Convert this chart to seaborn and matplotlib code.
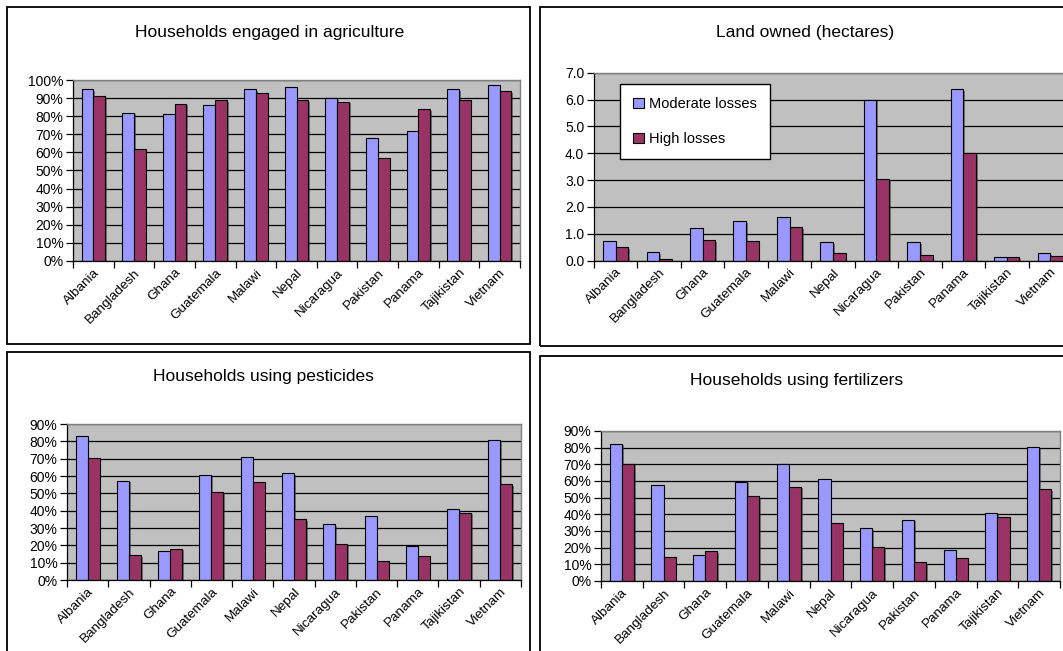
import numpy as np
import pandas as pd
import seaborn as sns
import matplotlib
matplotlib.use("Agg")
import matplotlib.pyplot as plt
from matplotlib.patches import Rectangle, Patch
from matplotlib.ticker import FuncFormatter
import matplotlib.patheffects as pe

# ---------------- data ----------------
countries = ["Albania", "Bangladesh", "Ghana", "Guatemala", "Malawi", "Nepal",
             "Nicaragua", "Pakistan", "Panama", "Tajikistan", "Vietnam"]
series_names = ["Moderate losses", "High losses"]

agri_moderate = [95, 82, 81, 86, 95, 96, 90, 68, 72, 95, 97]
agri_high = [91, 62, 87, 89, 93, 89, 88, 57, 84, 89, 94]

land_moderate = [0.73, 0.33, 1.20, 1.46, 1.64, 0.68, 6.00, 0.68, 6.39, 0.12, 0.27]
land_high = [0.50, 0.05, 0.77, 0.73, 1.24, 0.30, 3.06, 0.21, 4.00, 0.12, 0.16]

pest_moderate = [83.2, 57.3, 16.8, 60.3, 71.0, 61.6, 32.3, 36.8, 19.6, 40.9, 81.0]
pest_high = [70.1, 14.5, 18.0, 50.9, 56.6, 35.2, 21.0, 10.8, 13.9, 38.9, 55.2]

fert_moderate = [82.4, 57.5, 15.6, 59.7, 70.3, 61.2, 31.7, 36.9, 18.9, 40.8, 80.3]
fert_high = [70.3, 14.3, 18.0, 50.8, 56.6, 34.7, 20.6, 11.3, 13.7, 38.6, 55.1]

titles = ["Households engaged in agriculture", "Land owned (hectares)",
          "Households using pesticides", "Households using fertilizers"]

# ---------------- style ----------------
COL_MOD = "#9999FF"
COL_HIGH = "#993366"
BG = "#C0C0C0"
FONT = ["Liberation Sans", "DejaVu Sans"]
plt.rcParams["font.family"] = FONT

W, H = 1063, 651
fig = plt.figure(figsize=(W / 100, H / 100), dpi=100)


def fx(px):
    return px / W


def fy(py):
    return 1 - py / H


def add_axes(left, top, right, bottom):
    return fig.add_axes([fx(left), fy(bottom), fx(right) - fx(left), (bottom - top) / H])


def panel_box(x0, y0, x1, y1):
    fig.add_artist(Rectangle((fx(x0), fy(y1)), fx(x1) - fx(x0), (y1 - y0) / H,
                             transform=fig.transFigure, fill=False,
                             edgecolor="black", linewidth=1.3, zorder=0))


def draw(ax, mod, high, ymax, step, fmt):
    df = pd.DataFrame({
        "Country": countries * 2,
        "Loss": [series_names[0]] * len(countries) + [series_names[1]] * len(countries),
        "Value": list(mod) + list(high),
    })
    sns.barplot(data=df, x="Country", y="Value", hue="Loss", order=countries,
                hue_order=series_names, palette=[COL_MOD, COL_HIGH],
                width=0.58, gap=0, saturation=1, errorbar=None,
                edgecolor="black", linewidth=0.8, legend=False, ax=ax)
    for p in ax.patches:
        p.set_path_effects([pe.SimplePatchShadow(offset=(1.2, -1.2), shadow_rgbFace="#303030", alpha=0.55),
                            pe.Normal()])
    ax.set_facecolor(BG)
    ax.set_xlim(-0.5, len(countries) - 0.5)
    ax.set_ylim(0, ymax)
    ax.set_yticks(np.arange(0, ymax + step / 2, step))
    ax.yaxis.set_major_formatter(FuncFormatter(fmt))
    ax.yaxis.grid(True, color="black", linewidth=0.9)
    ax.set_axisbelow(True)
    ax.set_xticks(np.arange(-0.5, len(countries), 1.0))
    ax.set_xticklabels([])
    ax.set_xticks(np.arange(len(countries)), minor=True)
    ax.set_xticklabels(countries, minor=True, rotation=45, ha="right",
                       va="top", rotation_mode="anchor", fontsize=9.7)
    ax.tick_params(axis="x", which="minor", length=0, pad=4)
    ax.tick_params(axis="x", which="major", length=5, width=0.9, direction="out")
    ax.tick_params(axis="y", length=5, width=0.9, direction="out", labelsize=10, pad=2)
    ax.set_xlabel("")
    ax.set_ylabel("")
    for s in ["left", "bottom"]:
        ax.spines[s].set_color("black")
        ax.spines[s].set_linewidth(0.9)
    for s in ["top", "right"]:
        ax.spines[s].set_color("#808080")
        ax.spines[s].set_linewidth(1.0)


pct = lambda v, _: f"{v:.0f}%"
dec = lambda v, _: f"{v:.1f}"

# panel frames
panel_box(7, 7, 530, 344)
panel_box(540, 7, 1090, 346)
panel_box(7, 352, 530, 700)
panel_box(540, 356, 1090, 700)

ax1 = add_axes(73, 80, 520, 261)
draw(ax1, agri_moderate, agri_high, 100, 10, pct)

ax2 = add_axes(594, 72.7, 1072, 260.7)
draw(ax2, land_moderate, land_high, 7.0, 1.0, dec)

ax3 = add_axes(67, 424, 521, 580)
draw(ax3, pest_moderate, pest_high, 90, 10, pct)

ax4 = add_axes(601, 431, 1060, 581)
draw(ax4, fert_moderate, fert_high, 90, 10, pct)

# titles
fig.text(fx(270), fy(32), titles[0], ha="center", va="center", fontsize=12.5)
fig.text(fx(805), fy(32), titles[1], ha="center", va="center", fontsize=12.5)
fig.text(fx(263), fy(376), titles[2], ha="center", va="center", fontsize=12.5)
fig.text(fx(797), fy(381), titles[3], ha="center", va="center", fontsize=12.5)

# legend in land panel
handles = [Patch(facecolor=COL_MOD, edgecolor="black", linewidth=0.8),
           Patch(facecolor=COL_HIGH, edgecolor="black", linewidth=0.8)]
leg = ax2.legend(handles, series_names, loc="upper left",
                 bbox_to_anchor=(0.055, 0.94), borderaxespad=0,
                 fontsize=10.5, handlelength=0.7, handleheight=0.7,
                 handletextpad=0.4, labelspacing=1.45, borderpad=0.9,
                 fancybox=False, framealpha=1, edgecolor="black")
leg.get_frame().set_linewidth(1.0)

fig.savefig("out.png", dpi=100)
